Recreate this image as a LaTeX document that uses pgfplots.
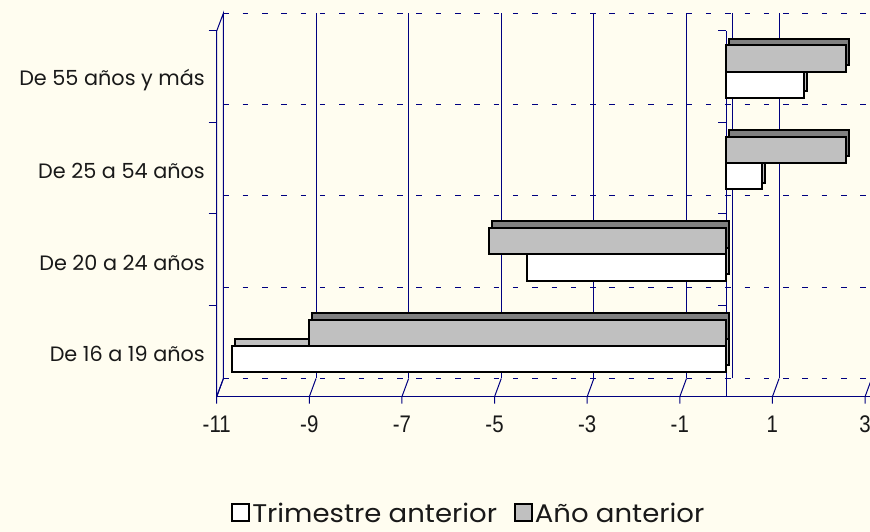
\documentclass[border=0pt]{standalone}
\usepackage{fontspec}
\usepackage{pgfplots}
\pgfplotsset{compat=1.18}
\setmainfont{Poppins}
\newfontfamily\legfont[FakeStretch=1.08]{Poppins}
\newfontfamily\tickfont[FakeStretch=0.85]{Liberation Sans}
\definecolor{cream}{HTML}{FFFDF0}
\definecolor{navy}{HTML}{000080}
\definecolor{lgray}{HTML}{C0C0C0}
\definecolor{dgray}{HTML}{808080}

% values (percent change)
\pgfplotstableread{
cat trim anio
0 -10.67 -9.00
1 -4.29 -5.13
2 0.78 2.59
3 1.68 2.59
}\datos

\begin{document}
\begin{tikzpicture}
\fill[cream] (0,0) rectangle (870bp,532bp);
\path[use as bounding box] (0,0) rectangle (870bp,532bp);

% back wall with the grid
\begin{axis}[
    at={(223.4bp,153.5bp)}, anchor=south west,
    scale only axis, width=648.3bp, height=365.3bp,
    xmin=-11, xmax=3, ymin=-0.5, ymax=3.5,
    axis line style={draw=none}, major tick length=0pt,
    xtick={-9,-7,-5,-3,-1,0,1,3}, ytick={-0.5,0.5,1.5,2.5,3.5},
    xticklabels={}, yticklabels={},
    xmajorgrids, ymajorgrids,
    major x grid style={navy, line width=0.8bp},
    major y grid style={navy, line width=1.1bp, dash pattern=on 5.5bp off 13.8bp},
]
\end{axis}

% left wall, floor and axes
\begin{scope}[navy, line width=1bp]
  \draw (216.7bp,135.3bp) -- (216.7bp,501bp) -- (223.4bp,518.8bp) -- (223.4bp,153.5bp) -- cycle;
  \draw (216.7bp,135.3bp) -- (870bp,135.3bp);
  \draw (726.1bp,135.3bp) -- (726.1bp,501bp);
  \foreach \y in {226.7,318.1,409.6,501} {
    \draw (208.7bp,\y bp) -- (216.7bp,\y bp);
    \draw (718.1bp,\y bp) -- (726.1bp,\y bp);
  }
  \foreach \v in {-11,-9,...,3} {
    \pgfmathsetmacro\xa{216.7+46.31*(\v+11)}
    \pgfmathsetmacro\xb{223.4+46.31*(\v+11)}
    \draw (\xa bp,128.3bp) -- (\xa bp,135.3bp) -- (\xb bp,153.5bp);
  }
\end{scope}

% bars
\begin{axis}[
    at={(216.7bp,135.3bp)}, anchor=south west,
    scale only axis, width=648.3bp, height=365.7bp,
    xmin=-11, xmax=3, ymin=-0.5, ymax=3.5,
    axis line style={draw=none}, major tick length=0pt,
    xtick={-11,-9,-7,-5,-3,-1,1,3},
    xticklabels={-11,-9,-7,-5,-3,-1,1,3},
    xticklabel style={font=\tickfont\fontsize{24bp}{28bp}\selectfont, inner sep=0pt, yshift=-19bp, text=black!90},
    ytick={0,1,2,3},
    yticklabels={De 16 a 19 años, De 20 a 24 años, De 25 a 54 años, De 55 años y más},
    yticklabel style={font=\fontsize{20.8bp}{24bp}\selectfont, inner sep=0pt, xshift=-11.7bp, yshift=-3bp, text=black!90},
    bar width=0.288,
    legend columns=2,
    legend cell align=left,
    legend style={at={(0.389,-0.319)}, anchor=center, draw=none, fill=none,
        font=\legfont\fontsize{25.5bp}{29bp}\selectfont, text=black!90,
        /tikz/every even column/.append style={column sep=15bp},
        inner sep=0pt},
    legend image code/.code={\draw[#1,/tikz/.cd,line width=1.8bp] (0bp,-8bp) rectangle (17bp,9bp);},
]
% depth faces
\addplot[xbar, bar shift=-0.088, fill=lgray, draw=black, line width=2bp, xshift=3bp, yshift=6.7bp, forget plot]
    table[x=trim, y=cat] {\datos};
\addplot[xbar, bar shift=0.2, fill=dgray, draw=black, line width=2bp, xshift=3bp, yshift=6.7bp, forget plot]
    table[x=anio, y=cat] {\datos};
% front faces
\addplot[xbar, bar shift=-0.088, fill=white, draw=black, line width=2bp]
    table[x=trim, y=cat] {\datos};
\addlegendentry{Trimestre anterior}
\addplot[xbar, bar shift=0.2, fill=lgray, draw=black, line width=2bp]
    table[x=anio, y=cat] {\datos};
\addlegendentry{Año anterior}
\end{axis}
\end{tikzpicture}
\end{document}
